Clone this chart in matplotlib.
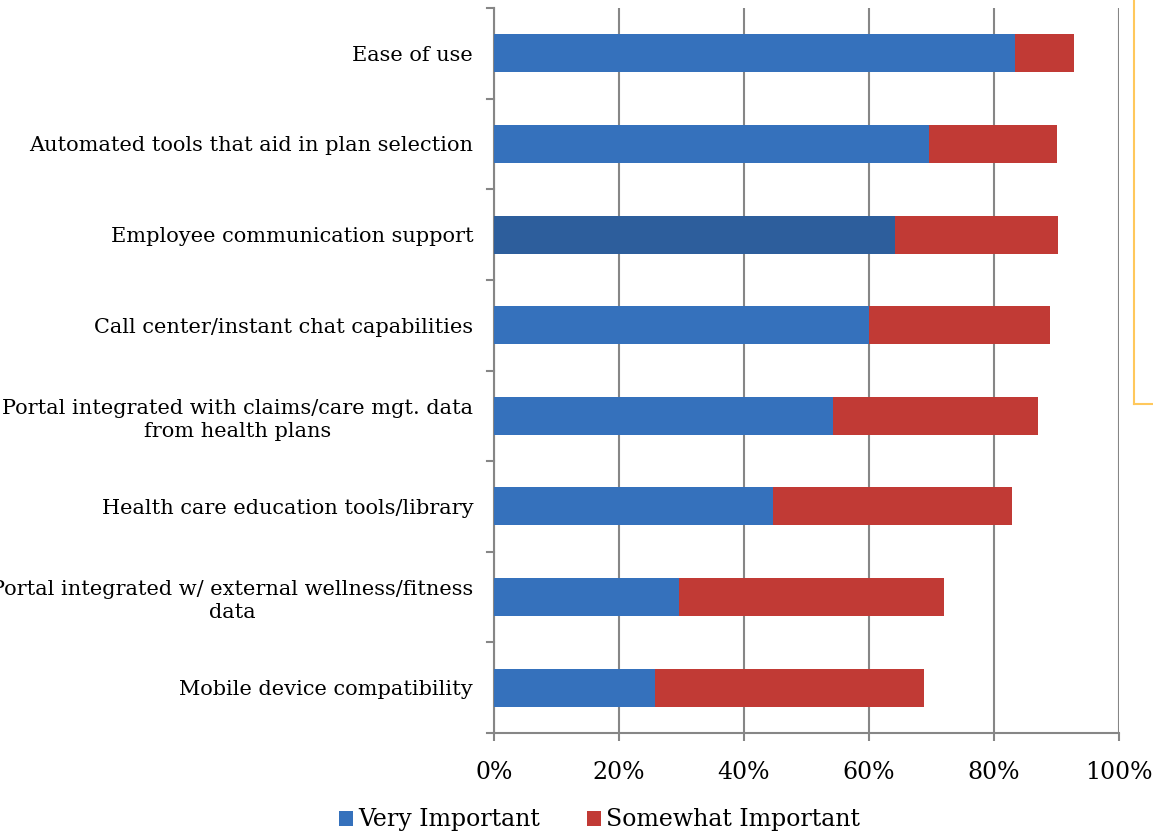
import matplotlib.pyplot as plt
from matplotlib.lines import Line2D
import numpy as np

categories = [
    "Ease of use",
    "Automated tools that aid in plan selection",
    "Employee communication support",
    "Call center/instant chat capabilities",
    "Portal integrated with claims/care mgt. data\nfrom health plans",
    "Health care education tools/library",
    "Portal integrated w/ external wellness/fitness\ndata",
    "Mobile device compatibility",
]
very_important = [83.4, 69.6, 64.2, 60.0, 54.2, 44.6, 29.6, 25.8]
somewhat_important = [9.4, 20.5, 26.0, 29.0, 32.8, 38.3, 42.4, 43.0]
series_names = ["Very Important", "Somewhat Important"]
xticks = [0, 20, 40, 60, 80, 100]

plt.rcParams["font.family"] = ["DejaVu Serif"]

fig = plt.figure(figsize=(11.53, 8.36), dpi=100)
ax = fig.add_axes([494 / 1153, 1 - 733 / 836, 625 / 1153, 725 / 836])

y = np.arange(len(categories))
blue = "#3571BC"
red = "#C13A35"
blue_colors = [blue] * len(categories)
blue_colors[2] = "#2D5E9C"

ax.barh(y, very_important, height=0.42, color=blue_colors, zorder=3,
        label=series_names[0])
ax.barh(y, somewhat_important, left=very_important, height=0.42, color=red,
        zorder=3, label=series_names[1])

ax.set_xlim(0, 100)
ax.set_ylim(len(categories) - 0.5, -0.5)
ax.set_xticks(xticks)
ax.set_xticklabels([f"{v}%" for v in xticks], fontsize=17)
ax.set_yticks(y)
ax.set_yticklabels(categories, fontsize=15, linespacing=1.25,
                   multialignment="center")
ax.tick_params(axis="y", length=0, pad=15)
ax.tick_params(axis="x", length=6, width=1.5, color="#868686", pad=14)

# category separator ticks on the y axis
for b in np.arange(-0.5, len(categories), 1.0):
    ax.plot([-0.012, 0], [b, b], transform=ax.get_yaxis_transform(),
            color="#868686", lw=1.5, clip_on=False, zorder=4)

ax.grid(axis="x", color="#868686", lw=1.5, zorder=1)
for s in ["top", "right"]:
    ax.spines[s].set_visible(False)
for s in ["left", "bottom"]:
    ax.spines[s].set_color("#868686")
    ax.spines[s].set_linewidth(1.5)

leg = fig.legend(loc="lower center", bbox_to_anchor=(0.52, -0.02), ncol=2,
                 frameon=False, fontsize=17, handlelength=0.6,
                 handleheight=0.6, handletextpad=0.2, columnspacing=2.0)

# partially visible box at right edge
fig.add_artist(Line2D([1134 / 1153, 1134 / 1153], [1.0, 1 - 404 / 836],
                      color="#FFC85C", lw=1.5))
fig.add_artist(Line2D([1134 / 1153, 1.0], [1 - 404 / 836, 1 - 404 / 836],
                      color="#FFC85C", lw=1.5))

fig.savefig("out.png", dpi=100)
